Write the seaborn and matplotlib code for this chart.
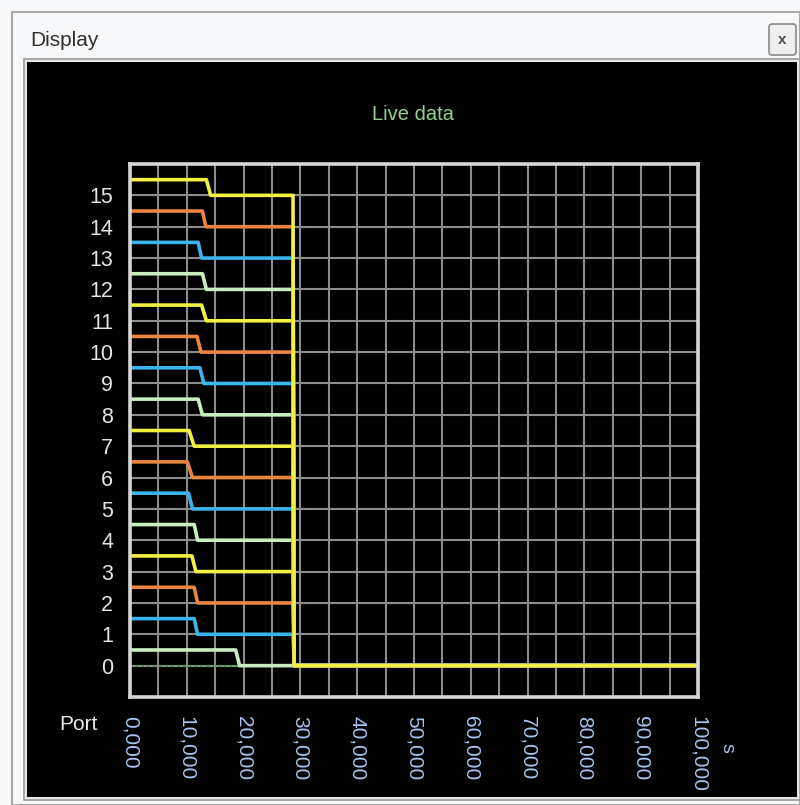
import numpy as np
import pandas as pd
import matplotlib
matplotlib.use("Agg")
import matplotlib.pyplot as plt
import seaborn as sns
from matplotlib.patches import Rectangle, FancyBboxPatch

# ---- data (time in s) ----
ports = list(range(16))
# time where each port starts falling from p+0.5 down to p, and where it lands
fall_start = [18.6, 11.3, 11.3, 10.9, 11.3, 10.3, 10.1, 10.4,
              12.0, 12.3, 11.8, 12.6, 12.75, 12.0, 12.75, 13.45]
fall_end = [19.3, 11.9, 11.9, 11.6, 11.9, 11.0, 11.0, 11.3,
            12.75, 13.0, 12.5, 13.45, 13.45, 12.6, 13.35, 14.2]
reset_start = 28.7
reset_end = 28.9
t_end = 100.0
idle_x = [0.0, 18.8]   # dotted green trace at 0
idle_y = [0.0, 0.0]

x_ticks = [0, 10, 20, 30, 40, 50, 60, 70, 80, 90, 100]
x_labels = [f"{v:.3f}".replace(".", ",") for v in x_ticks]
y_ticks = list(range(16))

colors = {0: "#c8eec0", 1: "#3ab4ea", 2: "#ea8440", 3: "#f2f040"}
palette = {p: colors[p % 4] for p in ports}

# build long table
rows = []
for p in ports:
    if p == 0:
        xs = [0, fall_start[p], fall_end[p], t_end]
        ys = [p + 0.5, p + 0.5, p, p]
    else:
        xs = [0, fall_start[p], fall_end[p], reset_start, reset_end, t_end]
        ys = [p + 0.5, p + 0.5, p, p, 0, 0]
    for i, (xv, yv) in enumerate(zip(xs, ys)):
        rows.append({"port": p, "t": xv, "val": yv, "order": i})
df = pd.DataFrame(rows)

font = ["Liberation Sans", "DejaVu Sans"]
sns.set_style("dark")
plt.rcParams["font.family"] = font

W, H = 800, 805
fig = plt.figure(figsize=(W / 100, H / 100), dpi=100)
fig.patch.set_facecolor("#f6f8fa")

def fx(px):
    return px / W

def fy(py):
    return 1 - py / H

# window frame + black panel (behind the axes)
frame = [
    Rectangle((fx(12), fy(805)), fx(800 - 12), (805 - 12) / H,
              fill=False, edgecolor="#a8a8a8", linewidth=1.5),
    Rectangle((fx(24), fy(800)), fx(776), (800 - 59) / H,
              facecolor="#e8e8e8", edgecolor="#9a9a9a", linewidth=1.2),
    Rectangle((fx(27), fy(797)), fx(770), (797 - 62) / H,
              facecolor="black", edgecolor="none"),
    FancyBboxPatch((fx(769), fy(55)), fx(27), 31 / H,
                   boxstyle="round,pad=0,rounding_size=0.004",
                   facecolor="#f0f0f0", edgecolor="#8a8a8a", linewidth=1.2),
]
for patch in frame:
    patch.set_transform(fig.transFigure)
    patch.set_zorder(-5)
    fig.patches.append(patch)

fig.text(fx(782), fy(40), "x", ha="center", va="center", fontsize=11,
         fontweight="bold", color="#505050")
fig.text(fx(30), fy(40), "Display", ha="left", va="center", fontsize=15,
         color="#303030")
fig.text(fx(413), fy(115), "Live data", ha="center", va="center", fontsize=14.5,
         color="#90d28e")
fig.text(fx(78), fy(724), "Port", ha="center", va="center", fontsize=15,
         color="#e8e8e8")
fig.text(fx(727), fy(748), "s", ha="center", va="center", fontsize=14,
         color="#a8c4ec", rotation=-90)

ax = fig.add_axes([fx(130), fy(697), fx(698 - 130), (697 - 164) / H])
ax.set_facecolor("black")

sns.lineplot(data=df, x="t", y="val", hue="port", units="port", estimator=None,
             sort=False, palette=palette, linewidth=2.6, legend=False, ax=ax)
sns.lineplot(x=idle_x, y=idle_y, color="#3c9c3c", linewidth=1.6,
             linestyle=":", ax=ax)

ax.set_xlim(0, 100)
ax.set_ylim(-1, 16)
ax.set_xticks(x_ticks)
ax.set_xticks(np.arange(5, 100, 10), minor=True)
ax.set_xticklabels(x_labels, rotation=-90, color="#a8c4ec", fontsize=15)
ax.set_yticks(y_ticks)
ax.set_yticklabels([str(v) for v in y_ticks], color="#e4e4e4", fontsize=15.5)
ax.tick_params(axis="both", which="both", length=0)
ax.tick_params(axis="x", pad=14)
ax.tick_params(axis="y", pad=12)
ax.grid(True, which="both", color="#8c8c8c", linewidth=1.5)
ax.set_axisbelow(True)
ax.set_xlabel("")
ax.set_ylabel("")
for s in ax.spines.values():
    s.set_visible(True)
    s.set_color("#d6d6d6")
    s.set_linewidth(2.6)

fig.savefig("out.png", dpi=100, facecolor=fig.get_facecolor())
